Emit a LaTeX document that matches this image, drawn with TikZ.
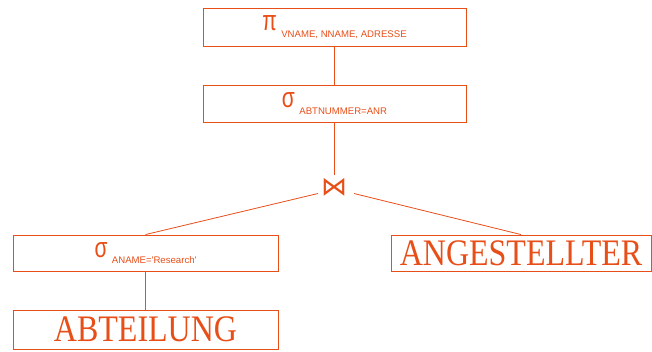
\documentclass[tikz,border=0pt]{standalone}
\usepackage{fontspec}
\setmainfont{Liberation Serif}
\newfontfamily\opsans{Liberation Sans}
\newfontfamily\symfont{DejaVu Sans}
\definecolor{ra}{RGB}{232,78,24}
\tikzset{
  box/.style={draw=ra, line width=0.9pt, rectangle, inner sep=0pt, text=ra},
  link/.style={draw=ra, line width=0.8pt},
}
% operator symbol with a lowered subscript
\newcommand{\relop}[2]{\raisebox{0.5pt}{\scalebox{1}[1.35]{\opsans\fontsize{21}{21}\selectfont #1}}\hspace{4.5pt}\raisebox{-6pt}{\opsans\fontsize{9.6}{9.6}\selectfont #2}}
\newcommand{\relname}[1]{\scalebox{1}[1.17]{\fontsize{32}{32}\selectfont #1}}
\begin{document}
\begin{tikzpicture}[x=1pt,y=-1pt]
\useasboundingbox (0,0) rectangle (652,351);
% projection and selection on top
\node[box, minimum width=263, minimum height=38] (proj) at (334.5,27) {\relop{π}{VNAME, NNAME, ADRESSE}};
\node[box, minimum width=263, minimum height=37] (sel) at (334.5,103.5) {\relop{σ}{ABTNUMMER=ANR}};
% join
\node[text=ra, inner sep=0pt, minimum width=26, minimum height=15] (join) at (334,187.5) {\symfont\fontsize{26}{26}\selectfont ⋈};
% left branch
\node[box, minimum width=265, minimum height=36] (lsel) at (145.5,253) {\relop{σ}{ANAME='Research'}};
\node[box, minimum width=265, minimum height=39] (abt) at (145.5,329.5) {\relname{ABTEILUNG}};
% right branch
\node[box, minimum width=260, minimum height=36] (ang) at (521,253) {\relname{ANGESTELLTER}};
% tree edges
\draw[link] (proj.south) -- (sel.north);
\draw[link] (sel.south) -- (sel.south |- 0,175);
\draw[link] ([shift={(-16,6)}]join.center) -- (lsel.north);
\draw[link] ([shift={(20,6)}]join.center) -- (ang.north);
\draw[link] (lsel.south) -- (abt.north);
\end{tikzpicture}
\end{document}
